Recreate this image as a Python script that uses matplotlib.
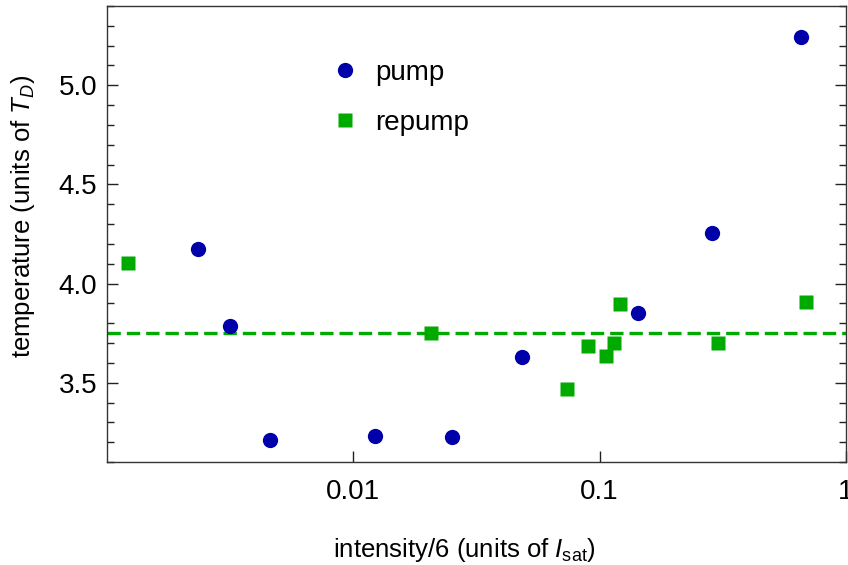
import matplotlib
matplotlib.use("Agg")
import matplotlib.pyplot as plt
from matplotlib.ticker import FixedLocator, MultipleLocator, FuncFormatter

plt.rcParams['font.family'] = ['Liberation Sans', 'DejaVu Sans']
plt.rcParams['mathtext.fontset'] = 'custom'
plt.rcParams['mathtext.rm'] = 'Liberation Sans'
plt.rcParams['mathtext.it'] = 'Liberation Sans:italic'

# Data
pump_x = [0.00234, 0.00315, 0.0046, 0.0122, 0.0252, 0.0483, 0.143, 0.287, 0.656]
pump_y = [4.175, 3.786, 3.212, 3.232, 3.225, 3.630, 3.851, 4.255, 5.242]
repump_x = [0.00122, 0.0207, 0.0740, 0.0898, 0.106, 0.114, 0.121, 0.303, 0.687]
repump_y = [4.103, 3.749, 3.468, 3.685, 3.635, 3.700, 3.897, 3.700, 3.906]
mean_T = 3.75
x_ticks = [0.01, 0.1, 1]
x_tick_labels = ["0.01", "0.1", "1"]
y_ticks = [3.5, 4.0, 4.5, 5.0]

fig = plt.figure(figsize=(8.48, 5.65), dpi=100)
ax = fig.add_axes([107/848, 103/565, 739/848, 456/565])

ax.axhline(mean_T, color='#00AA00', lw=2.4, dashes=(4, 1.8), zorder=1)
ax.plot(pump_x, pump_y, 'o', color='#0000AA', ms=11, mec='none', label='pump', zorder=3)
ax.plot(repump_x, repump_y, 's', color='#00AA00', ms=9.5, mec='none', label='repump', zorder=3)

ax.set_xscale('log')
ax.set_xlim(0.001, 1)
ax.set_ylim(3.1, 5.4)

ax.xaxis.set_major_locator(FixedLocator(x_ticks))
ax.xaxis.set_major_formatter(FuncFormatter(lambda v, p: dict(zip(x_ticks, x_tick_labels)).get(v, "")))
ax.xaxis.set_minor_locator(FixedLocator([]))
ax.yaxis.set_major_locator(FixedLocator(y_ticks))
ax.yaxis.set_minor_locator(MultipleLocator(0.1))
ax.yaxis.set_major_formatter(FuncFormatter(lambda v, p: f"{v:.1f}"))

ax.tick_params(axis='both', which='major', direction='in', length=8, width=1, labelsize=20, color='#222222')
ax.tick_params(axis='y', which='minor', direction='in', length=5, width=1, color='#222222')
ax.tick_params(axis='y', which='both', right=True)
ax.tick_params(axis='x', which='major', pad=12)
ax.tick_params(axis='y', which='major', pad=7)

for s in ax.spines.values():
    s.set_color('#333333')
    s.set_linewidth(1.0)

ax.set_xlabel(r"intensity/6 (units of $I_{\mathrm{sat}}$)", fontsize=18.5)
ax.set_ylabel(r"temperature (units of $T_D$)", fontsize=18.5)
ax.xaxis.set_label_coords(0.484, -0.162)
ax.yaxis.set_label_coords(-0.095, 0.539)

ax.legend(loc='upper left', bbox_to_anchor=(0.303, 0.882), frameon=False, fontsize=20,
          handlelength=1.0, handletextpad=0.6, labelspacing=0.87, borderaxespad=0, borderpad=0)

fig.savefig("out.png", dpi=100)
